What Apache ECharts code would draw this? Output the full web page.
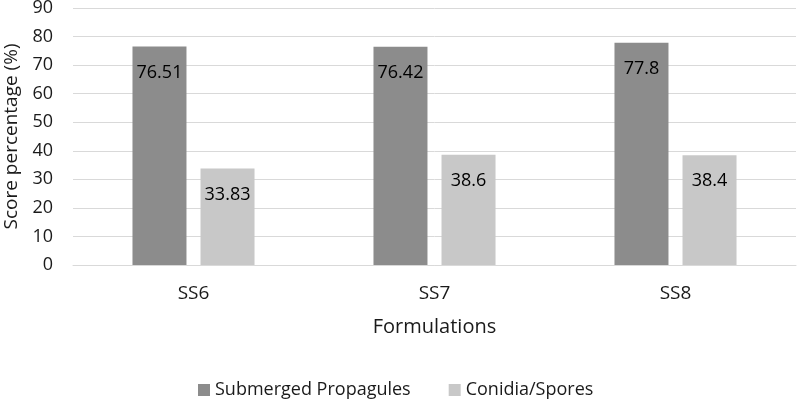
<!DOCTYPE html>
<html><head><meta charset="utf-8">
<script src="https://cdn.jsdelivr.net/npm/echarts@6/dist/echarts.min.js"></script>
<style>html,body{margin:0;padding:0;background:#fff}#c{width:798px;height:403px}</style>
</head><body><div id="c"></div>
<script>
const categories = ['SS6', 'SS7', 'SS8'];
const submerged = [76.51, 76.42, 77.8];
const conidia = [33.83, 38.6, 38.4];
const yTicks = [0, 90, 10];
const font = 'Open Sans';
const txt = '#1a1a1a';
const chart = echarts.init(document.getElementById('c'), null, {renderer: 'canvas'});
const lbl = {show: true, position: 'insideTop', distance: 17, color: '#000', fontSize: 18, fontFamily: font};
chart.setOption({
  animation: false,
  textStyle: {fontFamily: font},
  grid: {left: 73, right: 2, top: 8, bottom: 138, outerBoundsMode: 'none', containLabel: false},
  legend: {
    top: 376, left: 193, itemWidth: 12, itemHeight: 12, itemGap: 38,
    icon: 'rect', textStyle: {fontSize: 18, color: txt, fontFamily: font},
    data: ['Submerged Propagules', 'Conidia/Spores']
  },
  xAxis: {
    type: 'category', data: categories,
    name: 'Formulations', nameLocation: 'middle', nameGap: 52,
    nameTextStyle: {fontSize: 20, color: txt, fontFamily: font},
    axisLine: {lineStyle: {color: '#d9d9d9'}}, axisTick: {show: false},
    axisLabel: {fontSize: 19, color: txt, margin: 19, fontFamily: font}
  },
  yAxis: {
    type: 'value', min: yTicks[0], max: yTicks[1], interval: yTicks[2],
    name: 'Score percentage (%)', nameLocation: 'middle', nameGap: 52,
    nameTextStyle: {fontSize: 19, color: txt, fontFamily: font},
    axisLine: {show: false}, axisTick: {show: false},
    axisLabel: {fontSize: 18, color: txt, margin: 20, fontFamily: font},
    splitLine: {lineStyle: {color: '#d9d9d9'}}
  },
  series: [
    {name: 'Submerged Propagules', type: 'bar', data: submerged, barWidth: 54, barGap: '26%',
     itemStyle: {color: '#8c8c8c'}, label: lbl},
    {name: 'Conidia/Spores', type: 'bar', data: conidia, barWidth: 54,
     itemStyle: {color: '#c8c8c8'}, label: lbl}
  ]
});
</script></body></html>
